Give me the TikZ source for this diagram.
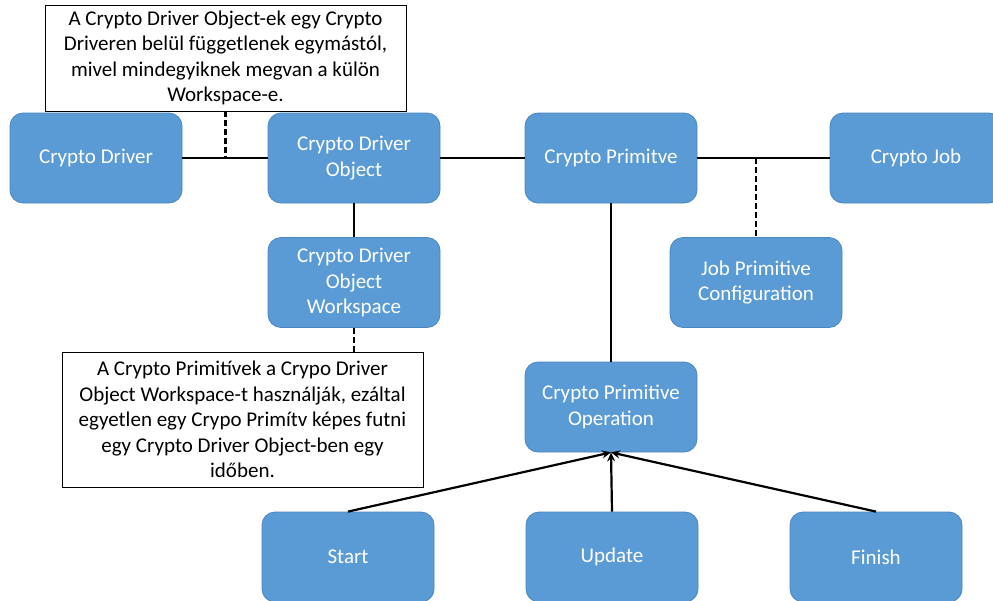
\documentclass[tikz,border=0pt]{standalone}
\usepackage{fontspec}
\setmainfont{Carlito}
\usetikzlibrary{arrows.meta}
\definecolor{boxblue}{HTML}{5B9BD5}
\definecolor{boxedge}{HTML}{4A86C0}
\begin{document}
\begin{tikzpicture}[x=1pt,y=-1pt,
  box/.style={rectangle, rounded corners=13pt, fill=boxblue, draw=boxedge, line width=0.8pt,
    minimum width=172pt, minimum height=90pt, inner sep=2pt, text=white, align=center,
    font=\fontsize{21}{25.5}\selectfont},
  note/.style={rectangle, draw=black, fill=white, line width=0.8pt, inner sep=0pt, align=center,
    font=\fontsize{21}{25.5}\selectfont},
  conn/.style={draw=black, line width=2.2pt},
  dashconn/.style={draw=black, line width=2.2pt, dash pattern=on 6pt off 3pt},
  arr/.style={draw=black, line width=2.2pt, -{Stealth[length=9pt,width=8pt]}}]
\clip (0,0) rectangle (993,600);
\fill[white] (0,0) rectangle (993,600);
% boxes
\node[box] (cd) at (96,158) {Crypto Driver};
\node[box] (cdo) at (354,158) {Crypto Driver\\Object};
\node[box] (cp) at (611,158) {Crypto Primitve};
\node[box] (cj) at (916,158) {Crypto Job};
\node[box] (cdow) at (354,282.5) {Crypto Driver\\Object\\Workspace};
\node[box] (jpc) at (756,282.5) {Job Primitive\\Configuration};
\node[box] (cpo) at (611,407) {Crypto Primitive\\Operation};
\node[box] (st) at (348,557) {Start};
\node[box] (up) at (612,557) {Update};
\node[box] (fi) at (876,557) {Finish};
% notes
\node[note, minimum width=361pt, minimum height=106pt] (n1) at (225.5,58)
  {A Crypto Driver Object-ek egy Crypto\\Driveren belül függetlenek egymástól,\\mivel mindegyiknek megvan a külön\\Workspace-e.};
\node[note, minimum width=361pt, minimum height=135pt] (n2) at (242.5,419.5)
  {A Crypto Primitívek a Crypo Driver\\Object Workspace-t használják, ezáltal\\egyetlen egy Crypo Primítv képes futni\\egy Crypto Driver Object-ben egy\\időben.};
% junctions
\coordinate (j1) at (n1.south |- cd.east);
\coordinate (j2) at (jpc.north |- cp.east);
% connectors
\draw[conn] (cd.east) -- (cdo.west);
\draw[conn] (cdo.east) -- (cp.west);
\draw[conn] (cp.east) -- (cj.west);
\draw[conn] (cdo.south) -- (cdow.north);
\draw[conn] (cp.south) -- (cpo.north);
\draw[dashconn] (n1.south) -- (j1);
\draw[dashconn] (j2) -- (jpc.north);
\draw[dashconn] (cdow.south) -- (cdow.south |- n2.north);
\draw[arr] (st.north) -- (cpo.south);
\draw[arr] (up.north) -- (cpo.south);
\draw[arr] (fi.north) -- (cpo.south);
\end{tikzpicture}
\end{document}
